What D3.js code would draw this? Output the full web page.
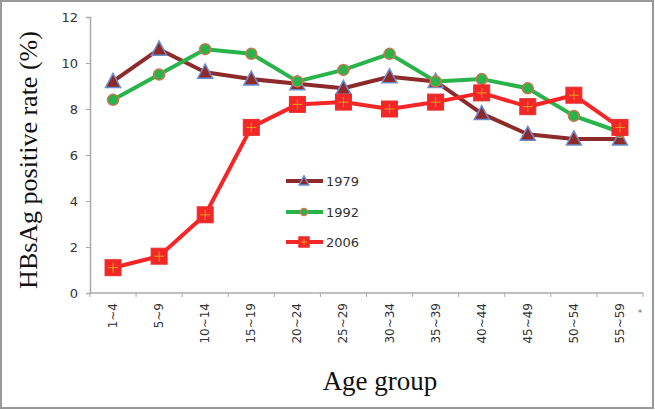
<!DOCTYPE html>
<html>
<head>
<meta charset="utf-8">
<script src="https://cdn.jsdelivr.net/npm/d3@7"></script>
<style>
body { margin: 0; background: #fff; }
svg { display: block; }
</style>
</head>
<body>
<svg width="655" height="410"></svg>
<script>
var ageGroups = ["1~4", "5~9", "10~14", "15~19", "20~24", "25~29", "30~34", "35~39", "40~44", "45~49", "50~54", "55~59"];
var y1979 = [9.2, 10.6, 9.6, 9.3, 9.1, 8.9, 9.4, 9.2, 7.8, 6.9, 6.7, 6.7];
var y1992 = [8.4, 9.5, 10.6, 10.4, 9.2, 9.7, 10.4, 9.2, 9.3, 8.9, 7.7, 7.0];
var y2006 = [1.1, 1.6, 3.4, 7.2, 8.2, 8.3, 8.0, 8.3, 8.7, 8.1, 8.6, 7.2];
var yTicks = [0, 2, 4, 6, 8, 10, 12];

var svg = d3.select("svg");

// outer frame
svg.append("rect")
    .attr("x", 1).attr("y", 1)
    .attr("width", 652).attr("height", 407)
    .attr("fill", "none")
    .attr("stroke", "#999")
    .attr("stroke-width", 2);

var plotLeft = 90, plotRight = 643, plotTop = 17, plotBottom = 293;

var x = d3.scaleBand().domain(ageGroups).range([plotLeft, plotRight]);
var y = d3.scaleLinear().domain([0, 12]).range([plotBottom, plotTop]);

// y axis
var yAxis = svg.append("g")
    .attr("transform", "translate(" + plotLeft + ",0)")
    .call(d3.axisLeft(y).tickValues(yTicks).tickSize(4).tickPadding(8));
yAxis.select(".domain").attr("stroke", "#aaa").attr("stroke-width", 1.5);
yAxis.selectAll(".tick line").attr("stroke", "#aaa");
yAxis.selectAll("text")
    .attr("font-family", "Verdana, DejaVu Sans, sans-serif")
    .attr("font-size", 13)
    .attr("fill", "#333");

// x axis, ticks at band boundaries
var xAxis = svg.append("g")
    .attr("transform", "translate(0," + plotBottom + ")");
xAxis.append("line")
    .attr("x1", plotLeft).attr("x2", plotRight)
    .attr("stroke", "#aaa").attr("stroke-width", 1.5);
var bounds = ageGroups.map(function(d) { return x(d); }).concat([plotRight]);
xAxis.selectAll(".btick")
    .data(bounds)
    .enter().append("line")
    .attr("x1", function(d) { return d; })
    .attr("x2", function(d) { return d; })
    .attr("y1", 0).attr("y2", 4)
    .attr("stroke", "#aaa");
xAxis.selectAll(".xlab")
    .data(ageGroups)
    .enter().append("text")
    .attr("transform", function(d) {
        return "translate(" + (x(d) + x.bandwidth() / 2 + 4) + ",10) rotate(-90)";
    })
    .attr("text-anchor", "end")
    .attr("font-family", "Verdana, DejaVu Sans, sans-serif")
    .attr("font-size", 12)
    .attr("fill", "#333")
    .text(function(d) { return d; });

svg.append("text")
    .attr("x", 640).attr("y", 316)
    .attr("text-anchor", "middle")
    .attr("font-family", "DejaVu Sans, sans-serif")
    .attr("font-size", 9)
    .attr("fill", "#666")
    .text("*");

// titles
svg.append("text")
    .attr("transform", "translate(37,160) rotate(-90)")
    .attr("text-anchor", "middle")
    .attr("font-family", "Liberation Serif, Times New Roman, serif")
    .attr("font-size", 26)
    .attr("fill", "#111")
    .text("HBsAg positive rate (%)");

svg.append("text")
    .attr("x", 380).attr("y", 390)
    .attr("text-anchor", "middle")
    .attr("font-family", "Liberation Serif, Times New Roman, serif")
    .attr("font-size", 27)
    .attr("fill", "#111")
    .text("Age group");

var cx = function(d, i) { return x(ageGroups[i]) + x.bandwidth() / 2; };

var series = [
    {name: "1979", values: y1979, line: "#8e2a2a", marker: "triangle"},
    {name: "1992", values: y1992, line: "#28b44a", marker: "circle"},
    {name: "2006", values: y2006, line: "#f52626", marker: "square"}
];

var line = d3.line()
    .x(cx)
    .y(function(d) { return y(d); });

function drawMarker(g, type, px, py, k) {
    k = k || 1;
    if (type == "triangle") {
        g.append("path")
            .attr("d", "M" + px + "," + (py - 8 * k) + "L" + (px + 7.5 * k) + "," + (py + 6 * k) + "L" + (px - 7.5 * k) + "," + (py + 6 * k) + "Z")
            .attr("fill", "#8e2a2a")
            .attr("stroke", "#6a8fd0")
            .attr("stroke-width", 1.5);
    } else if (type == "circle") {
        g.append("circle")
            .attr("cx", px).attr("cy", py).attr("r", 5.5 * k)
            .attr("fill", "#28b44a")
            .attr("stroke", "#c87850")
            .attr("stroke-width", 1.5);
    } else {
        g.append("rect")
            .attr("x", px - 8 * k).attr("y", py - 8 * k)
            .attr("width", 16 * k).attr("height", 16 * k)
            .attr("fill", "#f52626")
            .attr("stroke", "#e43030")
            .attr("stroke-width", 1);
        g.append("path")
            .attr("d", "M" + (px - 5 * k) + "," + py + "H" + (px + 5 * k) + "M" + px + "," + (py - 5 * k) + "V" + (py + 5 * k))
            .attr("stroke", "#e0a020")
            .attr("stroke-width", 1);
    }
}

series.forEach(function(s) {
    svg.append("path")
        .datum(s.values)
        .attr("d", line)
        .attr("fill", "none")
        .attr("stroke", s.line)
        .attr("stroke-width", 4)
        .attr("stroke-linejoin", "round");
});

series.forEach(function(s) {
    var g = svg.append("g");
    s.values.forEach(function(v, i) {
        drawMarker(g, s.marker, cx(v, i), y(v));
    });
});

// legend
var legY = [181, 212, 242];
series.forEach(function(s, i) {
    var g = svg.append("g");
    g.append("line")
        .attr("x1", 286).attr("x2", 323)
        .attr("y1", legY[i]).attr("y2", legY[i])
        .attr("stroke", s.line)
        .attr("stroke-width", 4);
    drawMarker(g, s.marker, 304, legY[i], 0.65);
    g.append("text")
        .attr("x", 326).attr("y", legY[i] + 5)
        .attr("font-family", "Verdana, DejaVu Sans, sans-serif")
        .attr("font-size", 13)
        .attr("fill", "#333")
        .text(s.name);
});
</script>
</body>
</html>
